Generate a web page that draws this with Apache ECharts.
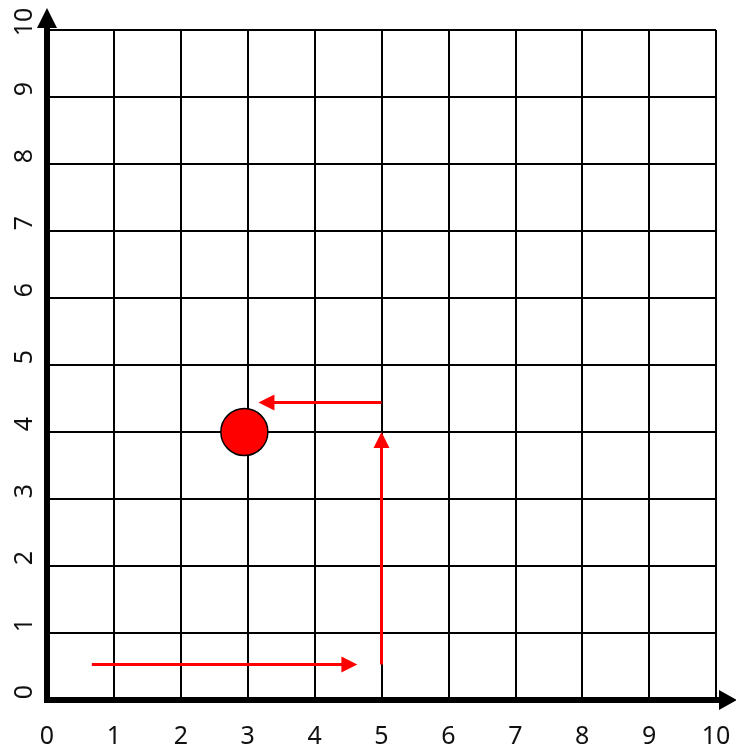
<!DOCTYPE html>
<html>
<head>
<meta charset="utf-8">
<script src="https://cdn.jsdelivr.net/npm/echarts@6/dist/echarts.min.js"></script>
<style>
html,body{margin:0;padding:0;background:#fff;}
#chart{width:736px;height:749px;}
</style>
</head>
<body>
<div id="chart"></div>
<script>
// Axis ticks
const xTicks = [0,1,2,3,4,5,6,7,8,9,10];
const yTicks = [0,1,2,3,4,5,6,7,8,9,10];
// Red dot position
const dotPoint = [2.95, 4];
// Arrow paths (start, end) in data coordinates
const arrowStarts = [[0.67, 0.53], [5, 0.53], [5, 4.44]];
const arrowEnds   = [[4.52, 0.53], [5, 3.88], [3.28, 4.44]];

const chart = echarts.init(document.getElementById('chart'), null, {renderer: 'canvas'});
const font = 'Noto Sans';
const option = {
  animation: false,
  backgroundColor: '#ffffff',
  grid: {left: 47, right: 20, top: 30, bottom: 49, containLabel: false},
  xAxis: {
    type: 'value', min: xTicks[0], max: xTicks[xTicks.length-1], interval: 1,
    offset: 2,
    axisLine: {show: true, symbol: ['none', 'triangle'], symbolSize: [20, 18], symbolOffset: [0, 12],
      lineStyle: {color: '#000', width: 6, cap: 'square'}},
    axisTick: {show: false},
    axisLabel: {fontSize: 25, color: '#111', fontFamily: font, margin: 22,
      formatter: v => String(v)},
    splitLine: {show: true, lineStyle: {color: '#000', width: 2}}
  },
  yAxis: {
    type: 'value', min: yTicks[0], max: yTicks[yTicks.length-1], interval: 1,
    offset: 3,
    axisLine: {show: true, symbol: ['none', 'triangle'], symbolSize: [20, 20], symbolOffset: [0, 12],
      lineStyle: {color: '#000', width: 6, cap: 'square'}},
    axisTick: {show: false},
    axisLabel: {fontSize: 25, color: '#111', fontFamily: font, rotate: 90, margin: 7,
      padding: [0, 0, 0, 16], formatter: v => String(v)},
    splitLine: {show: true, lineStyle: {color: '#000', width: 2}}
  },
  series: [
    {
      type: 'lines',
      coordinateSystem: 'cartesian2d',
      symbol: ['none', 'triangle'],
      symbolSize: 16,
      lineStyle: {color: '#ff0000', width: 3, opacity: 1, curveness: 0},
      itemStyle: {color: '#ff0000'},
      z: 3,
      data: arrowStarts.map((s, i) => ({coords: [s, arrowEnds[i]]}))
    },
    {
      type: 'scatter',
      symbol: 'circle',
      symbolSize: 47,
      itemStyle: {color: '#ff0000', borderColor: '#000', borderWidth: 1.5, opacity: 1},
      z: 4,
      data: [dotPoint]
    }
  ]
};
chart.setOption(option);
</script>
</body>
</html>
